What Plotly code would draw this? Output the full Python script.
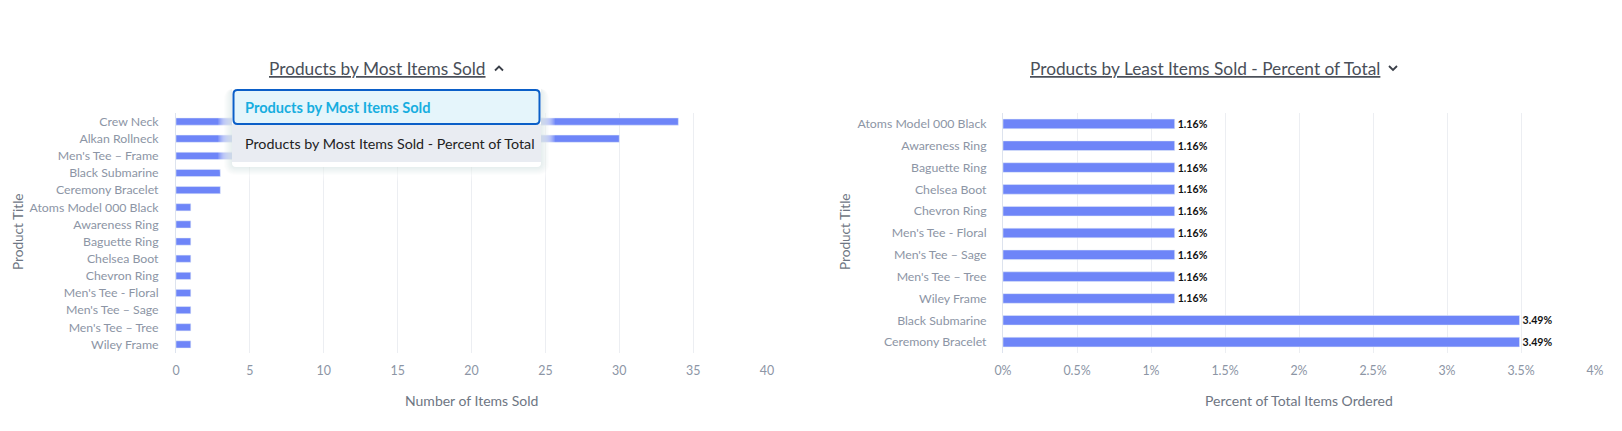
import plotly.graph_objects as go

OFF = 8            # page body margin
W, H = 1606, 415   # figure size so that it fits inside the 1622x431 window

# ---------------- data ----------------
most_products = ["Crew Neck", "Alkan Rollneck", "Men's Tee \u2013 Frame", "Black Submarine",
                 "Ceremony Bracelet", "Atoms Model 000 Black", "Awareness Ring", "Baguette Ring",
                 "Chelsea Boot", "Chevron Ring", "Men's Tee - Floral", "Men's Tee \u2013 Sage",
                 "Men's Tee \u2013 Tree", "Wiley Frame"]
most_items = [34, 30, 7, 3, 3, 1, 1, 1, 1, 1, 1, 1, 1, 1]

least_products = ["Atoms Model 000 Black", "Awareness Ring", "Baguette Ring", "Chelsea Boot",
                  "Chevron Ring", "Men's Tee - Floral", "Men's Tee \u2013 Sage",
                  "Men's Tee \u2013 Tree", "Wiley Frame", "Black Submarine", "Ceremony Bracelet"]
least_pct = [1.16, 1.16, 1.16, 1.16, 1.16, 1.16, 1.16, 1.16, 1.16, 3.49, 3.49]

left_ticks = [0, 5, 10, 15, 20, 25, 30, 35, 40]
right_tickvals = [0, 0.5, 1, 1.5, 2, 2.5, 3, 3.5, 4]
right_ticktext = ["0%", "0.5%", "1%", "1.5%", "2%", "2.5%", "3%", "3.5%", "4%"]

left_title = "Products by Most Items Sold"
right_title = "Products by Least Items Sold - Percent of Total"
menu_items = ["Products by Most Items Sold", "Products by Most Items Sold - Percent of Total"]

# ---------------- styling ----------------
FONT = "Lato, 'Open Sans', sans-serif"
BAR = "#6e85f8"
TICK = "#8c95a5"
GRID = "#eceef2"
AXLINE = "#dde3ee"


def px(x):
    return (x - OFF) / W


def py(y):
    return 1 - (y - OFF) / H


fig = go.Figure()

fig.add_trace(go.Bar(
    x=most_items, y=most_products, orientation="h", marker_color=BAR,
    width=0.42, xaxis="x", yaxis="y", hoverinfo="x+y", showlegend=False,
))
fig.add_trace(go.Bar(
    x=least_pct, y=least_products, orientation="h", marker_color=BAR,
    width=0.44, xaxis="x2", yaxis="y2", showlegend=False,
    texttemplate="%{x:.2f}%", textposition="outside", cliponaxis=False,
    constraintext="none",
    textfont=dict(family=FONT, size=10.6, color="#111111", weight="bold"),
))

ydom = [py(353), py(113)]

axis_common = dict(
    showgrid=True, gridcolor=GRID, gridwidth=1, zeroline=False, automargin=False,
    tickfont=dict(family=FONT, size=12.4, color=TICK),
    ticks="outside", ticklen=6, tickcolor="rgba(0,0,0,0)",
    fixedrange=True,
)
yaxis_common = dict(
    showgrid=False, zeroline=False, automargin=False,
    showline=True, linecolor=AXLINE, linewidth=1,
    tickfont=dict(family=FONT, size=12.3, color=TICK),
    ticks="outside", tickcolor="rgba(0,0,0,0)", fixedrange=True,
)

fig.update_layout(
    width=W, height=H,
    margin=dict(l=0, r=0, t=0, b=0),
    paper_bgcolor="white", plot_bgcolor="white",
    font=dict(family=FONT),
    xaxis=dict(domain=[px(176), px(767)], range=[0, 40], tickvals=left_ticks,
               anchor="y", **axis_common),
    yaxis=dict(domain=ydom, categoryorder="array", categoryarray=most_products,
               autorange="reversed", anchor="x", ticklen=14, **yaxis_common),
    xaxis2=dict(domain=[px(1003), px(1595)], range=[0, 4], tickvals=right_tickvals,
                ticktext=right_ticktext, anchor="y2", **axis_common),
    yaxis2=dict(domain=ydom, categoryorder="array", categoryarray=least_products,
                autorange="reversed", anchor="x2", ticklen=13, **yaxis_common),
)


def rrect(x0, y0, x1, y1, r):
    rx, ry = r / W, r / H
    X0, X1, Y0, Y1 = px(x0), px(x1), py(y0), py(y1)
    return (f"M {X0+rx},{Y0} L {X1-rx},{Y0} Q {X1},{Y0} {X1},{Y0-ry} "
            f"L {X1},{Y1+ry} Q {X1},{Y1} {X1-rx},{Y1} L {X0+rx},{Y1} "
            f"Q {X0},{Y1} {X0},{Y1+ry} L {X0},{Y0-ry} Q {X0},{Y0} {X0+rx},{Y0} Z")


shapes = []
# soft haze / shadow around the open menu (many faint layers for a smooth fade)
for grow in range(14, 0, -1):
    shapes.append(dict(type="path", path=rrect(232 - grow, 84 - grow / 2, 541 + grow, 167 + grow, 4 + grow),
                       xref="paper", yref="paper", layer="above",
                       fillcolor="rgba(255,255,255,0.12)", line=dict(width=0)))
for grow in range(8, 0, -1):
    shapes.append(dict(type="path", path=rrect(232 - grow, 88, 541 + grow, 167 + grow, 4 + grow),
                       xref="paper", yref="paper", layer="above",
                       fillcolor="rgba(40,50,80,0.012)", line=dict(width=0)))
# menu body
shapes.append(dict(type="path", path=rrect(232, 84, 541, 167, 4), xref="paper", yref="paper",
                   layer="above", fillcolor="white", line=dict(width=0)))
# second item band
shapes.append(dict(type="rect", x0=px(232), x1=px(541), y0=py(124), y1=py(162),
                   xref="paper", yref="paper", layer="above", fillcolor="#e9ecf2",
                   line=dict(width=0)))
# selected item
shapes.append(dict(type="path", path=rrect(233.5, 90, 539.5, 124, 4), xref="paper", yref="paper",
                   layer="above", fillcolor="#e5f5fb", line=dict(color="#0b5fc8", width=2)))
# chevrons
shapes.append(dict(type="path",
                   path=f"M {px(495)},{py(70.5)} L {px(499)},{py(66.5)} L {px(503)},{py(70.5)}",
                   xref="paper", yref="paper", layer="above",
                   line=dict(color="#3a3f48", width=1.8)))
shapes.append(dict(type="path",
                   path=f"M {px(1389)},{py(66)} L {px(1393)},{py(70)} L {px(1397)},{py(66)}",
                   xref="paper", yref="paper", layer="above",
                   line=dict(color="#3a3f48", width=1.8)))
fig.update_layout(shapes=shapes)

TITLE_COLOR = "#4a4f59"
AX_TITLE = "#6e7683"
ann = [
    dict(text=left_title, x=px(377.5), y=py(68),
         font=dict(family=FONT, size=17.3, color=TITLE_COLOR, lineposition="under")),
    dict(text=right_title, x=px(1204.5), y=py(68),
         font=dict(family=FONT, size=17.3, color=TITLE_COLOR, lineposition="under")),
    dict(text="Number of Items Sold", x=px(471.5), y=py(400),
         font=dict(family=FONT, size=14, color=AX_TITLE)),
    dict(text="Percent of Total Items Ordered", x=px(1299), y=py(400),
         font=dict(family=FONT, size=14, color=AX_TITLE)),
    dict(text="Product Title", x=px(18), y=py(232), textangle=-90,
         font=dict(family=FONT, size=13.6, color=AX_TITLE)),
    dict(text="Product Title", x=px(845), y=py(232), textangle=-90,
         font=dict(family=FONT, size=13.6, color=AX_TITLE)),
    dict(text="<b>" + menu_items[0] + "</b>", x=px(243), y=py(107), xanchor="left",
         font=dict(family=FONT, size=14.6, color="#17aee0")),
    dict(text=menu_items[1], x=px(243), y=py(143), xanchor="left",
         font=dict(family=FONT, size=14.3, color="#222222")),
]
for a in ann:
    a.setdefault("xanchor", "center")
    a.update(xref="paper", yref="paper", yanchor="middle", showarrow=False)
fig.update_layout(annotations=ann)

fig.write_html("out.html")
